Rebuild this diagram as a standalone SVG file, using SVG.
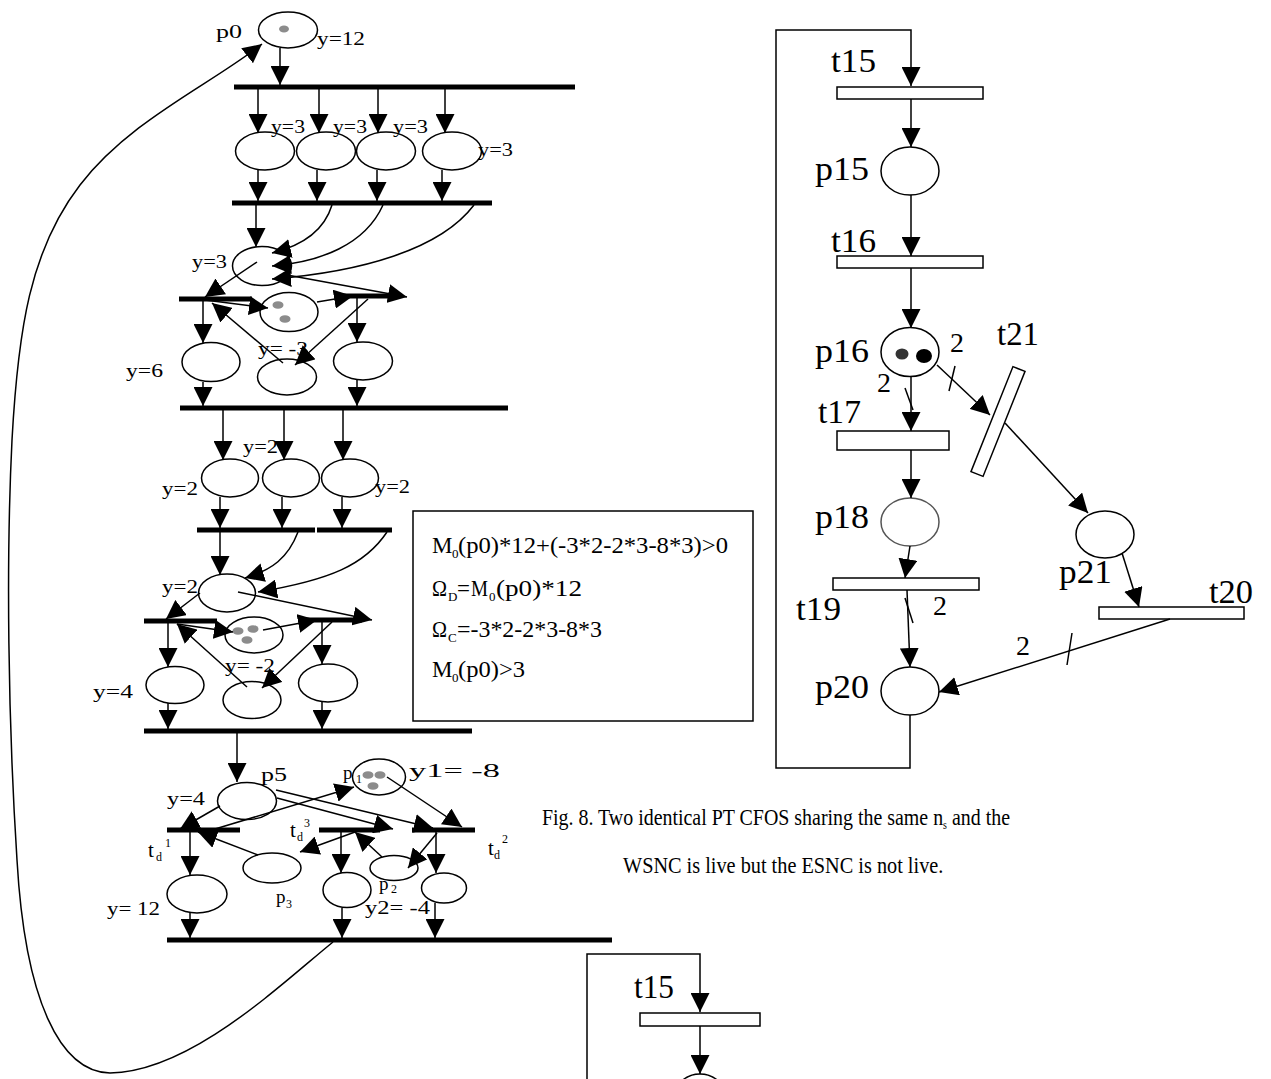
<svg xmlns="http://www.w3.org/2000/svg" width="1271" height="1079" viewBox="0 0 1271 1079">
  <style>
    .pl { fill: #fff; stroke: #000; stroke-width: 1.5; }
    .plg { fill: #fff; stroke: #555; stroke-width: 1.5; }
    .tok { fill: #8c8c8c; }
    .bar { stroke: #000; stroke-width: 5; fill: none; }
    .tr { fill: #fff; stroke: #000; stroke-width: 1.5; }
    .arc { fill: none; stroke: #000; stroke-width: 1.5; marker-end: url(#ah); }
    .ln { fill: none; stroke: #000; stroke-width: 1.5; }
    .t { font-family: "Liberation Serif", "Times New Roman", serif; font-size: 19px; fill: #000; }
    .s { font-size: 12px; }
    .tt { font-size: 21px; }
    .big { font-size: 34px; }
    .w { font-size: 28px; }
    .box { font-size: 23px; }
    .bs { font-size: 13px; }
    .cap { font-size: 24px; }
  </style>
  <defs>
    <marker id="ah" viewBox="0 0 19 19" markerWidth="19" markerHeight="19" refX="19" refY="9.5" orient="auto" markerUnits="userSpaceOnUse">
      <path d="M0,0 L19,9.5 L0,19 z" fill="#000"/>
    </marker>
  </defs>
  <rect width="1271" height="1079" fill="#fff"/>

  <!-- ===== left net: places ===== -->
  <g id="p0"><ellipse class="pl" cx="288" cy="30" rx="29.5" ry="18"/><ellipse class="tok" cx="284" cy="29" rx="5" ry="3.5"/>
    <text class="t" x="216" y="38" textLength="26" lengthAdjust="spacingAndGlyphs">p0</text>
    <text class="t" x="317" y="45" textLength="48" lengthAdjust="spacingAndGlyphs">y=12</text></g>
  <g id="pa1"><ellipse class="pl" cx="265" cy="151" rx="29.5" ry="19"/></g>
  <g id="pa2"><ellipse class="pl" cx="326" cy="151" rx="29.5" ry="19"/></g>
  <g id="pa3"><ellipse class="pl" cx="386" cy="151" rx="29.5" ry="19"/></g>
  <g id="pa4"><ellipse class="pl" cx="452" cy="151" rx="29.5" ry="19"/></g>
  <g id="pb0"><ellipse class="pl" cx="262" cy="266" rx="29.5" ry="19.5"/></g>
  <g id="pb1"><ellipse class="pl" cx="289" cy="312" rx="29" ry="19.5"/><ellipse class="tok" cx="278" cy="305" rx="5.5" ry="3.8"/><ellipse class="tok" cx="285" cy="319" rx="5.5" ry="3.8"/></g>
  <g id="pb2"><ellipse class="pl" cx="211" cy="362" rx="29" ry="19.5"/></g>
  <g id="pb3"><ellipse class="pl" cx="287" cy="377" rx="29.5" ry="18"/></g>
  <g id="pb4"><ellipse class="pl" cx="363" cy="361" rx="29.5" ry="19"/></g>
  <g id="pc1"><ellipse class="pl" cx="230" cy="478" rx="28.5" ry="19"/></g>
  <g id="pc2"><ellipse class="pl" cx="291" cy="478" rx="28.5" ry="19"/></g>
  <g id="pc3"><ellipse class="pl" cx="350" cy="478" rx="28.5" ry="19"/></g>
  <g id="pd0"><ellipse class="pl" cx="227" cy="593" rx="28.5" ry="19"/></g>
  <g id="pd1"><ellipse class="pl" cx="254" cy="635" rx="29" ry="18"/><ellipse class="tok" cx="238" cy="631" rx="5.5" ry="3.8"/><ellipse class="tok" cx="253" cy="629" rx="5.5" ry="3.8"/><ellipse class="tok" cx="247" cy="640" rx="5.5" ry="3.8"/></g>
  <g id="pd2"><ellipse class="pl" cx="175" cy="685" rx="29" ry="18.5"/></g>
  <g id="pd3"><ellipse class="pl" cx="252" cy="700" rx="29" ry="18.5"/></g>
  <g id="pd4"><ellipse class="pl" cx="328" cy="683" rx="29.5" ry="19"/></g>
  <g id="p5"><ellipse class="pl" cx="247" cy="801" rx="29.5" ry="18.5"/></g>
  <g id="p1"><ellipse class="pl" cx="379" cy="777" rx="26.5" ry="18"/>
    <text class="t" x="343" y="779">p</text><text class="t s" x="356" y="783">1</text>
    <ellipse class="tok" cx="368" cy="775" rx="5.5" ry="3.8"/><ellipse class="tok" cx="380" cy="775" rx="5.5" ry="3.8"/><ellipse class="tok" cx="373" cy="786" rx="5.5" ry="3.8"/></g>
  <g id="p3"><ellipse class="pl" cx="272" cy="868" rx="29" ry="15"/></g>
  <g id="pe1"><ellipse class="pl" cx="197" cy="894" rx="30" ry="19"/></g>
  <g id="pe2"><ellipse class="pl" cx="347" cy="890" rx="24" ry="17.5"/></g>
  <g id="p2"><ellipse class="pl" cx="394" cy="868" rx="24" ry="12.5"/></g>
  <g id="pe3"><ellipse class="pl" cx="444" cy="888" rx="22.5" ry="15"/></g>

  <!-- ===== left net: transitions ===== -->
  <g id="T0"><line class="bar" x1="234" y1="87" x2="575" y2="87"/></g>
  <g id="T1"><line class="bar" x1="232" y1="203" x2="492" y2="203"/></g>
  <g id="T2L"><line class="bar" x1="179" y1="299" x2="252" y2="299"/></g>
  <g id="T2R"><line class="bar" x1="337" y1="296" x2="395" y2="296"/></g>
  <g id="T3"><line class="bar" x1="180" y1="408" x2="508" y2="408"/></g>
  <g id="T4"><line class="bar" x1="197" y1="530" x2="315" y2="530"/><line class="bar" x1="317" y1="530" x2="392" y2="530"/></g>
  <g id="T5L"><line class="bar" x1="144" y1="621" x2="217" y2="621"/></g>
  <g id="T5R"><line class="bar" x1="303" y1="620" x2="362" y2="620"/></g>
  <g id="T6"><line class="bar" x1="144" y1="731" x2="472" y2="731"/></g>
  <g id="td1"><line class="bar" x1="167" y1="830" x2="240" y2="830"/></g>
  <g id="td3"><line class="bar" x1="319" y1="830" x2="380" y2="830"/></g>
  <g id="td2"><line class="bar" x1="412" y1="830" x2="475" y2="830"/></g>
  <g id="T7"><line class="bar" x1="167" y1="940" x2="612" y2="940"/></g>

  <!-- ===== left net: connectors ===== -->
  <g id="left-arcs">
    <line class="arc" x1="280" y1="48" x2="280" y2="85"/>
    <line class="arc" x1="258" y1="89" x2="258" y2="133"/>
    <line class="arc" x1="319" y1="89" x2="319" y2="133"/>
    <line class="arc" x1="378" y1="89" x2="378" y2="133"/>
    <line class="arc" x1="445" y1="89" x2="445" y2="133"/>
    <line class="arc" x1="258" y1="170" x2="258" y2="201"/>
    <line class="arc" x1="317" y1="170" x2="317" y2="201"/>
    <line class="arc" x1="377" y1="170" x2="377" y2="201"/>
    <line class="arc" x1="442" y1="170" x2="442" y2="201"/>
    <line class="arc" x1="256" y1="205" x2="256" y2="247"/>
    <path class="arc" d="M332,205 C325,228 305,245 272,253"/>
    <path class="arc" d="M383,205 C365,245 320,262 272,266"/>
    <path class="arc" d="M474,205 C440,250 360,272 272,279"/>
    <line class="arc" x1="257" y1="262" x2="205" y2="297"/>
    <line class="arc" x1="287" y1="275" x2="407" y2="297"/>
    <line class="arc" x1="205" y1="300" x2="268" y2="308"/>
    <line class="arc" x1="317" y1="302" x2="353" y2="296"/>
    <line class="arc" x1="203" y1="301" x2="203" y2="343"/>
    <line class="arc" x1="283" y1="363" x2="212" y2="303"/>
    <line class="arc" x1="357" y1="298" x2="357" y2="342"/>
    <line class="arc" x1="368" y1="299" x2="295" y2="365"/>
    <line class="arc" x1="203" y1="382" x2="203" y2="406"/>
    <line class="arc" x1="357" y1="380" x2="357" y2="406"/>
    <line class="arc" x1="223" y1="410" x2="223" y2="460"/>
    <line class="arc" x1="284" y1="410" x2="284" y2="460"/>
    <line class="arc" x1="343" y1="410" x2="343" y2="460"/>
    <line class="arc" x1="220" y1="497" x2="220" y2="528"/>
    <line class="arc" x1="282" y1="497" x2="282" y2="528"/>
    <line class="arc" x1="342" y1="497" x2="342" y2="528"/>
    <line class="arc" x1="220" y1="532" x2="220" y2="575"/>
    <path class="arc" d="M298,532 C288,558 272,570 245,578"/>
    <path class="arc" d="M387,532 C365,565 330,580 258,592"/>
    <line class="arc" x1="200" y1="593" x2="166" y2="619"/>
    <line class="arc" x1="238" y1="592" x2="372" y2="620"/>
    <line class="arc" x1="177" y1="624" x2="233" y2="632"/>
    <line class="arc" x1="263" y1="630" x2="317" y2="620"/>
    <line class="arc" x1="168" y1="623" x2="168" y2="667"/>
    <line class="arc" x1="247" y1="687" x2="177" y2="624"/>
    <line class="arc" x1="322" y1="622" x2="322" y2="664"/>
    <line class="arc" x1="332" y1="622" x2="262" y2="688"/>
    <line class="arc" x1="168" y1="703" x2="168" y2="729"/>
    <line class="arc" x1="322" y1="702" x2="322" y2="729"/>
    <line class="arc" x1="237" y1="733" x2="237" y2="782"/>
    <line class="arc" x1="220" y1="806" x2="180" y2="829"/>
    <line class="arc" x1="215" y1="829" x2="354" y2="787"/>
    <line class="arc" x1="258" y1="855" x2="198" y2="832"/>
    <line class="arc" x1="277" y1="798" x2="393" y2="829"/>
    <line class="arc" x1="276" y1="790" x2="433" y2="828"/>
    <line class="arc" x1="387" y1="777" x2="462" y2="827"/>
    <line class="arc" x1="355" y1="832" x2="300" y2="852"/>
    <line class="arc" x1="382" y1="857" x2="355" y2="832"/>
    <line class="arc" x1="437" y1="833" x2="408" y2="868"/>
    <line class="arc" x1="190" y1="832" x2="190" y2="875"/>
    <line class="arc" x1="341" y1="832" x2="341" y2="873"/>
    <line class="arc" x1="436" y1="832" x2="436" y2="873"/>
    <line class="arc" x1="190" y1="913" x2="190" y2="938"/>
    <line class="arc" x1="342" y1="908" x2="342" y2="938"/>
    <line class="arc" x1="435" y1="903" x2="435" y2="938"/>
    <path class="arc" d="M333,942 C280,985 190,1072 110,1073 C60,1072 25,1000 17,860 C8,720 6,560 12,440 C18,330 30,250 80,185 C130,120 210,85 262,44"/>
  </g>

  <!-- ===== left net: labels ===== -->
  <g id="left-labels">
    <text class="t" x="271" y="133" textLength="34" lengthAdjust="spacingAndGlyphs">y=3</text>
    <text class="t" x="333" y="133" textLength="34" lengthAdjust="spacingAndGlyphs">y=3</text>
    <text class="t" x="393" y="133" textLength="35" lengthAdjust="spacingAndGlyphs">y=3</text>
    <text class="t" x="478" y="156" textLength="35" lengthAdjust="spacingAndGlyphs">y=3</text>
    <text class="t" x="192" y="268" textLength="35" lengthAdjust="spacingAndGlyphs">y=3</text>
    <text class="t" x="258" y="355" textLength="50" lengthAdjust="spacingAndGlyphs">y= -3</text>
    <text class="t" x="126" y="377" textLength="37" lengthAdjust="spacingAndGlyphs">y=6</text>
    <text class="t" x="243" y="453" textLength="35" lengthAdjust="spacingAndGlyphs">y=2</text>
    <text class="t" x="162" y="495" textLength="36" lengthAdjust="spacingAndGlyphs">y=2</text>
    <text class="t" x="375" y="493" textLength="35" lengthAdjust="spacingAndGlyphs">y=2</text>
    <text class="t" x="162" y="593" textLength="36" lengthAdjust="spacingAndGlyphs">y=2</text>
    <text class="t" x="225" y="672" textLength="50" lengthAdjust="spacingAndGlyphs">y= -2</text>
    <text class="t" x="93" y="698" textLength="40" lengthAdjust="spacingAndGlyphs">y=4</text>
    <text class="t" x="167" y="805" textLength="38" lengthAdjust="spacingAndGlyphs">y=4</text>
    <text class="t" x="261" y="781" textLength="26" lengthAdjust="spacingAndGlyphs">p5</text>
    <text class="t" x="409" y="777" textLength="91" lengthAdjust="spacingAndGlyphs">y1= -8</text>
    <text class="t tt" x="148" y="857">t</text><text class="t s" x="156" y="861">d</text><text class="t s" x="165" y="847">1</text>
    <text class="t tt" x="290" y="837">t</text><text class="t s" x="297" y="841">d</text><text class="t s" x="304" y="827">3</text>
    <text class="t tt" x="488" y="855">t</text><text class="t s" x="494" y="859">d</text><text class="t s" x="502" y="843">2</text>
    <text class="t" x="276" y="903">p</text><text class="t s" x="286" y="908">3</text>
    <text class="t" x="379" y="890">p</text><text class="t s" x="391" y="893">2</text>
    <text class="t" x="365" y="914" textLength="65" lengthAdjust="spacingAndGlyphs">y2= -4</text>
    <text class="t" x="107" y="915" textLength="53" lengthAdjust="spacingAndGlyphs">y= 12</text>
  </g>

  <!-- ===== condition box ===== -->
  <g id="condition-box">
    <rect x="413" y="511" width="340" height="210" fill="#fff" stroke="#000" stroke-width="1.5"/>
    <text class="t box" x="432" y="553">M</text><text class="t bs" x="452" y="558">0</text>
    <text class="t box" x="458" y="553" textLength="270" lengthAdjust="spacingAndGlyphs">(p0)*12+(-3*2-2*3-8*3)&gt;0</text>
    <text class="t box" x="432" y="596" textLength="15" lengthAdjust="spacingAndGlyphs">Ω</text><text class="t bs" x="448" y="601">D</text>
    <text class="t box" x="457" y="596">=</text>
    <text class="t box" x="471" y="596" textLength="17" lengthAdjust="spacingAndGlyphs">M</text><text class="t bs" x="489" y="601">0</text>
    <text class="t box" x="496" y="596" textLength="86" lengthAdjust="spacingAndGlyphs">(p0)*12</text>
    <text class="t box" x="432" y="637" textLength="15" lengthAdjust="spacingAndGlyphs">Ω</text><text class="t bs" x="448" y="642">C</text>
    <text class="t box" x="457" y="637" textLength="145" lengthAdjust="spacingAndGlyphs">=-3*2-2*3-8*3</text>
    <text class="t box" x="432" y="677">M</text><text class="t bs" x="452" y="682">0</text>
    <text class="t box" x="458" y="677" textLength="67" lengthAdjust="spacingAndGlyphs">(p0)&gt;3</text>
  </g>

  <!-- ===== right net ===== -->
  <g id="t15"><rect class="tr" x="837" y="87" width="146" height="12"/><text class="t big" x="831" y="72" textLength="45" lengthAdjust="spacingAndGlyphs">t15</text></g>
  <g id="p15"><ellipse class="pl" cx="910" cy="171" rx="29" ry="24"/><text class="t big" x="815" y="180" textLength="54" lengthAdjust="spacingAndGlyphs">p15</text></g>
  <g id="t16"><rect class="tr" x="837" y="256" width="146" height="12"/><text class="t big" x="831" y="252" textLength="45" lengthAdjust="spacingAndGlyphs">t16</text></g>
  <g id="p16"><ellipse class="pl" cx="910" cy="352" rx="29" ry="24.5"/>
    <ellipse cx="902" cy="354" rx="6.5" ry="5.5" fill="#333"/><ellipse cx="924" cy="356" rx="8" ry="7" fill="#000"/>
    <text class="t big" x="815" y="362" textLength="54" lengthAdjust="spacingAndGlyphs">p16</text></g>
  <g id="t17"><rect class="tr" x="837" y="431" width="112" height="19"/><text class="t big" x="818" y="423" textLength="43" lengthAdjust="spacingAndGlyphs">t17</text></g>
  <g id="t21"><rect class="tr" x="-6.5" y="-56.5" width="13" height="113" transform="translate(998,421.5) rotate(21.8)"/>
    <text class="t big" x="997" y="345" textLength="42" lengthAdjust="spacingAndGlyphs">t21</text></g>
  <g id="p18"><ellipse class="plg" cx="910" cy="522" rx="29" ry="24"/><text class="t big" x="815" y="528" textLength="54" lengthAdjust="spacingAndGlyphs">p18</text></g>
  <g id="p21"><ellipse class="pl" cx="1105" cy="534.5" rx="29" ry="23.5"/><text class="t big" x="1059" y="583" textLength="53" lengthAdjust="spacingAndGlyphs">p21</text></g>
  <g id="t19"><rect class="tr" x="833" y="578" width="146" height="12"/><text class="t big" x="796" y="620" textLength="45" lengthAdjust="spacingAndGlyphs">t19</text></g>
  <g id="t20"><rect class="tr" x="1099" y="607" width="145" height="12"/><text class="t big" x="1209" y="603" textLength="44" lengthAdjust="spacingAndGlyphs">t20</text></g>
  <g id="p20"><ellipse class="pl" cx="910" cy="691" rx="29" ry="24"/><text class="t big" x="815" y="698" textLength="54" lengthAdjust="spacingAndGlyphs">p20</text></g>

  <g id="right-arcs">
    <polyline class="arc" points="910,715 910,768 776,768 776,30 911,30 911,86"/>
    <line class="arc" x1="911" y1="99" x2="911" y2="147"/>
    <line class="arc" x1="911" y1="195" x2="911" y2="256"/>
    <line class="arc" x1="911" y1="268" x2="911" y2="328"/>
    <line class="arc" x1="911" y1="377" x2="911" y2="431"/>
    <line class="ln" x1="905" y1="388" x2="913" y2="410"/>
    <line class="arc" x1="911" y1="450" x2="911" y2="498"/>
    <line class="arc" x1="910" y1="546" x2="905" y2="578"/>
    <line class="arc" x1="907" y1="590" x2="910" y2="667"/>
    <line class="ln" x1="905" y1="598" x2="913" y2="623"/>
    <line class="arc" x1="937" y1="365" x2="990" y2="415"/>
    <line class="ln" x1="955" y1="366" x2="949" y2="391"/>
    <line class="arc" x1="1005" y1="423" x2="1088" y2="513"/>
    <line class="arc" x1="1122" y1="553" x2="1139" y2="607"/>
    <line class="arc" x1="1170" y1="619" x2="939" y2="692"/>
    <line class="ln" x1="1072" y1="633" x2="1067" y2="665"/>
  </g>
  <g id="right-weights">
    <text class="t w" x="950" y="352">2</text>
    <text class="t w" x="877" y="392">2</text>
    <text class="t w" x="933" y="615">2</text>
    <text class="t w" x="1016" y="655">2</text>
  </g>

  <!-- ===== caption (condensed serif) ===== -->
  <g id="caption">
    <text class="t cap" transform="translate(542,825) scale(0.83,1)">Fig. 8. Two identical PT CFOS sharing the same n<tspan font-size="12" dy="4">s</tspan><tspan dy="-4"> and the</tspan></text>
    <text class="t cap" transform="translate(623,873) scale(0.845,1)">WSNC is live but the ESNC is not live.</text>
  </g>

  <!-- ===== second copy (cut off at the bottom) ===== -->
  <g id="t15b"><rect class="tr" x="640" y="1013" width="120" height="13"/><text class="t big" x="634" y="998" textLength="40" lengthAdjust="spacingAndGlyphs">t15</text></g>
  <g id="p15b"><ellipse class="pl" cx="700" cy="1098" rx="26" ry="24"/></g>
  <g id="copy-arcs">
    <polyline class="arc" points="587,1079 587,954 700,954 700,1012"/>
    <line class="arc" x1="700" y1="1026" x2="700" y2="1074"/>
  </g>
</svg>
